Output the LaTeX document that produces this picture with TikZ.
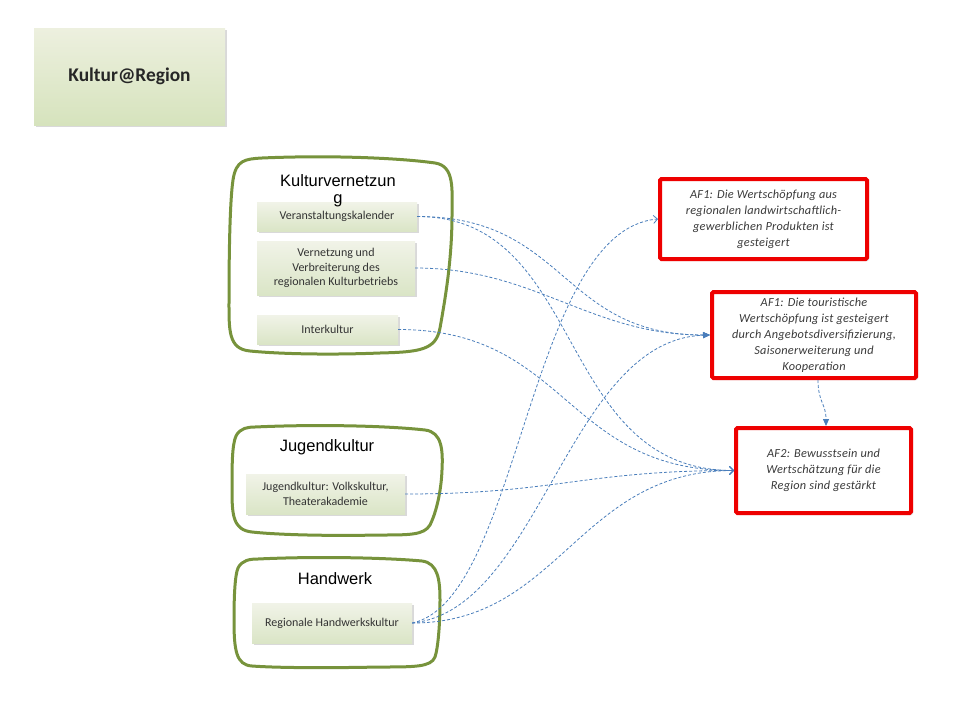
\documentclass[tikz,border=0pt]{standalone}
\usepackage{fontspec}
\setmainfont{Carlito}
\newfontfamily\arialf{Liberation Sans}
\usetikzlibrary{arrows.meta,shadows}
\definecolor{blobgreen}{HTML}{77933C}
\definecolor{linkblue}{HTML}{4A7EBB}
\definecolor{gtop}{HTML}{F1F3E8}
\definecolor{gbot}{HTML}{DAE5C6}
\definecolor{ttop}{HTML}{EDF0DF}
\definecolor{tbot}{HTML}{D6E3BD}
\definecolor{txtgray}{HTML}{333333}
\definecolor{redtxt}{HTML}{3A3A3A}
\definecolor{boxred}{HTML}{EE0000}
\tikzset{
  gbox/.style={rectangle, top color=gtop, bottom color=gbot, draw=none,
    drop shadow={shadow xshift=2pt, shadow yshift=-2pt, opacity=0.25, fill=black!60},
    align=center, text=txtgray, inner sep=2pt,
    font=\fontsize{12}{14.5}\selectfont},
  tbox/.style={rectangle, top color=ttop, bottom color=tbot, draw=none,
    drop shadow={shadow xshift=2pt, shadow yshift=-2pt, opacity=0.25, fill=black!60},
    align=center, text=black!85, font=\fontsize{19.4}{22}\selectfont\bfseries},
  rbox/.style={rectangle, draw=boxred, line width=4pt, fill=white, rounded corners=1.5pt,
    drop shadow={shadow xshift=2pt, shadow yshift=-2pt, opacity=0.25, fill=black!60},
    align=center, text=redtxt, inner sep=2pt,
    font=\fontsize{12.3}{16}\selectfont\itshape\addfontfeature{LetterSpace=2}},
  blob/.style={draw=blobgreen, line width=3pt},
  btitle/.style={align=center, font=\arialf\fontsize{16.5}{17}\selectfont, text=black},
  link/.style={draw=linkblue, line width=0.8pt, dash pattern=on 3pt off 2pt},
  opentip/.style={-{Straight Barb[length=4pt,width=8pt]}},
  filltip/.style={-{Triangle[length=7pt,width=6pt]}},
}
\begin{document}
\begin{tikzpicture}[x=1pt,y=-1pt]
\useasboundingbox (0,0) rectangle (960,720);

% title box
\node[tbox, minimum width=191pt, minimum height=97pt] (title) at (129.5,76.5) {Kultur@Region};

% blobs
\draw[blob] (262,158) .. controls (330,155) and (400,158) .. (435,163)
  .. controls (455,166) and (452,190) .. (452,215)
  .. controls (452,260) and (445,300) .. (440,328)
  .. controls (436,350) and (420,352) .. (380,353)
  .. controls (330,355) and (280,354) .. (250,351)
  .. controls (228,349) and (229,330) .. (229,300)
  .. controls (229,250) and (230,200) .. (233,180)
  .. controls (236,160) and (245,159) .. cycle;
\draw[blob] (255,427) .. controls (320,424) and (390,426) .. (425,430)
  .. controls (442,432) and (443,450) .. (442,470)
  .. controls (441,495) and (435,515) .. (430,525)
  .. controls (424,535) and (410,535) .. (380,535)
  .. controls (330,536) and (280,535) .. (252,532)
  .. controls (233,530) and (232,515) .. (232,490)
  .. controls (232,465) and (232,445) .. (236,436)
  .. controls (240,428) and (248,427) .. cycle;
\draw[blob] (258,559) .. controls (320,556) and (390,558) .. (422,561)
  .. controls (438,563) and (440,580) .. (440,600)
  .. controls (440,625) and (438,648) .. (435,657)
  .. controls (431,667) and (415,667) .. (380,667)
  .. controls (330,668) and (280,668) .. (252,666)
  .. controls (236,665) and (234,650) .. (234,620)
  .. controls (234,595) and (235,575) .. (238,568)
  .. controls (242,560) and (250,559) .. cycle;

% green boxes
\node[gbox, minimum width=160pt, minimum height=29pt] (vk) at (337,216.5) {Veranstaltungskalender};
\node[gbox, minimum width=158pt, minimum height=54pt] (vn) at (336,268) {Vernetzung und\\Verbreiterung des\\regionalen Kulturbetriebs};
\node[gbox, minimum width=141pt, minimum height=29pt] (ik) at (327.5,329.5) {Interkultur};
\node[gbox, minimum width=159pt, minimum height=40pt] (jk) at (325.5,494) {Jugendkultur: Volkskultur,\\Theaterakademie};
\node[gbox, minimum width=160pt, minimum height=40pt] (hw) at (332,623) {Regionale Handwerkskultur};

% blob titles
\node[btitle] (t1) at (338,191) {Kulturvernetzun\\g};
\node[btitle] (t2) at (327,447) {Jugendkultur};
\node[btitle] (t3) at (335,579) {Handwerk};

% red boxes
\node[rbox, minimum width=207pt, minimum height=80pt] (af1a) at (763.5,219) {AF1: Die Wertschöpfung aus\\regionalen landwirtschaftlich-\\gewerblichen Produkten ist\\gesteigert};
\node[rbox, minimum width=204pt, minimum height=86pt] (af1t) at (814,335) {AF1: Die touristische\\Wertschöpfung ist gesteigert\\durch Angebotsdiversifizierung,\\Saisonerweiterung und\\Kooperation};
\node[rbox, minimum width=175pt, minimum height=85pt] (af2) at (823.5,470.5) {AF2: Bewusstsein und\\Wertschätzung für die\\Region sind gestärkt};

% connectors
\draw[link,filltip] (vk.east) .. controls +(150,0) and +(-150,0) .. (af1t.west);
\draw[link,opentip] (vk.east) .. controls +(170,0) and +(-180,0) .. (af2.west);
\draw[link,filltip] (vn.east) .. controls +(120,0) and +(-120,0) .. (af1t.west);
\draw[link,opentip] (ik.east) .. controls +(170,0) and +(-170,0) .. (af2.west);
\draw[link,opentip] (jk.east) .. controls +(150,0) and +(-150,0) .. (af2.west);
\draw[link,opentip] (hw.east) .. controls +(108,-23) and +(-130,11) .. (af1a.west);
\draw[link,filltip] (hw.east) .. controls +(128,-13) and +(-142,5) .. (af1t.west);
\draw[link,opentip] (hw.east) .. controls +(148,0) and +(-156,0) .. (af2.west);
\draw[link,filltip] ([xshift=4pt]af1t.south) .. controls +(0,22) and +(0,-22) .. ([xshift=2.5pt]af2.north);
\end{tikzpicture}
\end{document}
